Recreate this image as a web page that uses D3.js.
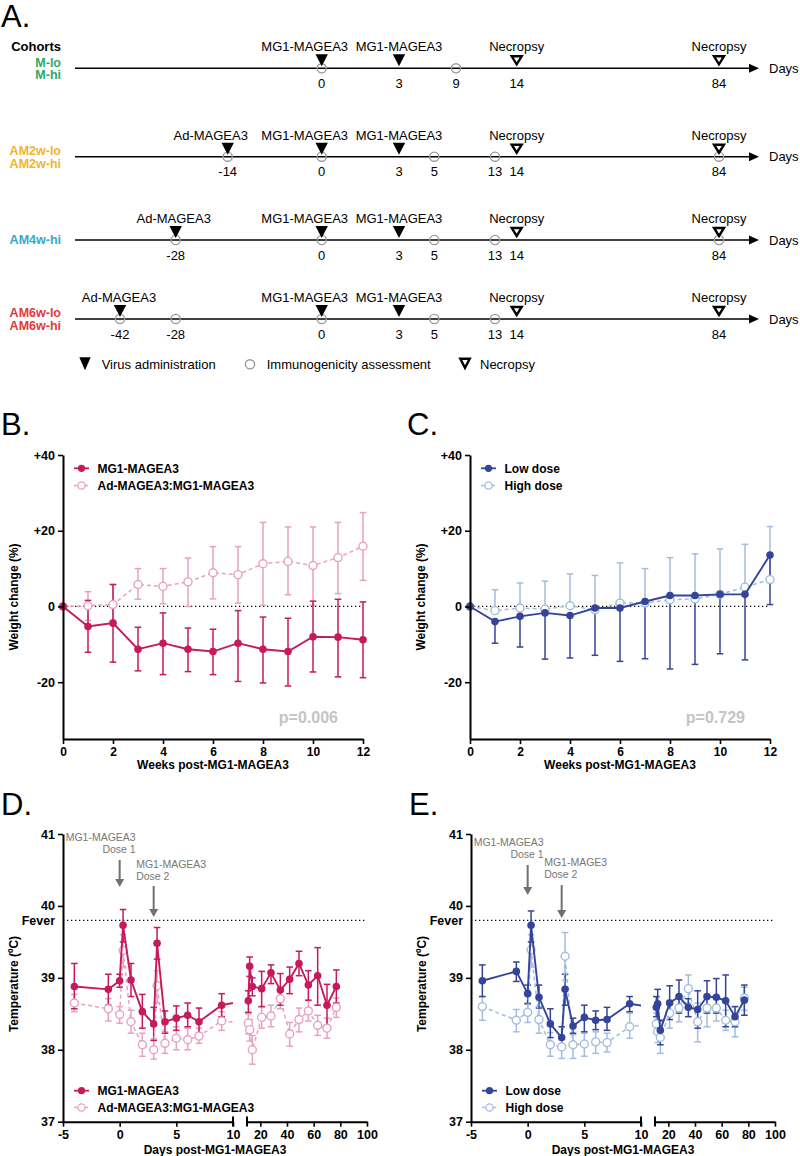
<!DOCTYPE html>
<html><head><meta charset="utf-8">
<script src="https://cdn.jsdelivr.net/npm/d3@7"></script>
<style>body{margin:0;background:#fff}svg{display:block}text{font-family:"Liberation Sans",Arial,sans-serif}</style>
</head><body><svg id="c" width="800" height="1156"></svg>
<script>
// ---------------- DATA ----------------
// Panel A (schematic timelines)
const timelineDays = [-42,-28,-14,0,3,5,9,13,14,84];
const cohortNames = [["M-lo","M-hi"],["AM2w-lo","AM2w-hi"],["AM4w-hi"],["AM6w-lo","AM6w-hi"]];
const virusDays = [[0,3],[-14,0,3],[-28,0,3],[-42,0,3]];
const virusLabels = [["MG1-MAGEA3","MG1-MAGEA3"],["Ad-MAGEA3","MG1-MAGEA3","MG1-MAGEA3"],["Ad-MAGEA3","MG1-MAGEA3","MG1-MAGEA3"],["Ad-MAGEA3","MG1-MAGEA3","MG1-MAGEA3"]];
const immunoDays = [[0,9],[-14,0,5,13,84],[-28,0,5,13,84],[-42,-28,0,5,13]];
const necropsyDays = [14,84];
const dayTicks = [[0,3,9,14,84],[-14,0,3,5,13,14,84],[-28,0,3,5,13,14,84],[-42,-28,0,3,5,13,14,84]];
const legendA = ["Virus administration","Immunogenicity assessment","Necropsy"];

// Panel B/C (weight change, %)
const weeks = [0,1,2,3,4,5,6,7,8,9,10,11,12];
const weekTicks = [0,2,4,6,8,10,12];
const weightTicks = [-20,0,20,40];
const bNames = ["MG1-MAGEA3","Ad-MAGEA3:MG1-MAGEA3"];
const bMG1   = [0,-5.3,-4.4,-11.3,-9.7,-11.3,-11.9,-9.7,-11.3,-11.9,-8.0,-8.1,-8.8];
const bMG1Hi = [0, 1.6, 5.8, -5.5,-1.7, -5.7, -6.0,-1.1, -2.8, -3.1, 1.4, 1.9, 1.2];
const bMG1Lo = [0,-12.1,-14.7,-17,-18,-17.2,-18,-19.8,-20.2,-21,-17.3,-18.6,-18.8];
const bAd    = [0,0.2,0.5,5.8,5.3,6.5,8.9,8.4,11.3,11.9,10.8,12.9,15.9];
const bAdHi  = [0,3.9,5.8,10,10,12.8,15.8,15.8,22.2,21,21,22.2,24.8];
const bAdLo  = [0,-3.7,-3.7,1.9,0.7,0,2,0.9,0.3,3.1,0.3,3.4,6.9];
const bP = "p=0.006";
const cNames = ["Low dose","High dose"];
const cLow    = [0,-4.0,-2.6,-1.7,-2.4,-0.4,-0.4,1.3,2.9,2.9,3.2,3.2,13.6];
const cLowLo  = [0,-9.7,-10.7,-13.9,-13.6,-12.9,-14.5,-13.8,-16.5,-15.3,-12.5,-14.1,0.5];
const cHigh   = [0,-1.1,-0.4,-0.7,0.2,-0.9,0.9,0.9,1.8,2.0,3.2,5.1,7.1];
const cHighHi = [0,4.4,6.2,6.7,8.6,8.2,11.5,10.0,12.9,13.9,15.2,16.4,21.1];
const cP = "p=0.729";

// Panel D/E (temperature, °C)
const tDays = [-4,-1,0,0.3,1,2,3,3.3,4,5,6,7,9,11,12,14,21,28,35,42,49,56,63,70,77];
const dayTicks1 = [-5,0,5,10];
const dayTicks2 = [20,40,60,80,100];
const tempTicks = [37,38,39,40,41];
const feverTemp = 39.8;
const dMG1   = [38.88,38.84,38.96,39.73,38.97,38.53,38.36,39.48,38.39,38.44,38.48,38.39,38.62,38.68,39.16,38.88,38.85,39.07,38.83,38.98,39.2,38.9,39.03,38.62,38.88];
const dMG1Hi = [39.2,39.05,39.05,39.95,39.2,38.77,38.59,39.7,38.54,38.61,38.65,38.58,38.78,38.82,39.29,39.0,39.09,39.18,39.06,39.15,39.37,39.1,39.42,38.91,39.11];
const dMG1Lo = [38.57,38.62,38.87,39.5,38.74,38.3,38.13,39.26,38.23,38.27,38.32,38.23,38.46,38.52,39.02,38.75,38.6,38.92,38.62,38.78,39.03,38.69,38.62,38.32,38.65];
const dAd    = [38.65,38.57,38.49,39.38,38.39,38.07,38.0,38.89,38.09,38.16,38.14,38.19,38.4,38.37,38.28,38.0,38.45,38.47,38.71,38.22,38.42,38.54,38.34,38.3,38.59];
const dAdHi  = [38.77,38.71,38.6,39.6,38.55,38.23,38.15,39.1,38.25,38.32,38.3,38.3,38.53,38.5,38.42,38.2,38.6,38.62,38.85,38.38,38.58,38.68,38.48,38.44,38.72];
const dAdLo  = [38.53,38.4,38.37,39.15,38.23,37.91,37.87,38.65,37.95,38.0,38.0,38.09,38.27,38.22,38.12,37.8,38.3,38.32,38.57,38.05,38.25,38.4,38.2,38.16,38.45];
const eLow   = [38.96,39.09,38.78,39.73,38.73,38.36,38.17,38.84,38.33,38.45,38.41,38.42,38.64,38.59,38.64,38.27,38.65,38.74,38.59,38.56,38.74,38.73,38.68,38.46,38.69];
const eLowHi = [39.18,39.22,38.9,39.93,38.9,38.57,38.32,39.05,38.44,38.62,38.54,38.59,38.74,38.74,38.84,38.41,38.89,38.97,38.71,38.82,38.96,38.99,39.04,38.6,38.9];
const eLowLo = [38.74,38.95,38.64,39.5,38.58,38.17,38.02,38.62,38.23,38.25,38.28,38.27,38.53,38.46,38.41,38.07,38.42,38.51,38.46,38.3,38.51,38.51,38.32,38.32,38.48];
const eHigh  = [38.6,38.41,38.52,39.39,38.42,38.07,38.04,39.3,38.07,38.08,38.11,38.1,38.32,38.36,38.25,38.17,38.51,38.58,38.85,38.39,38.58,38.58,38.41,38.39,38.72];
const eHighHi= [38.74,38.56,38.65,39.6,38.6,38.24,38.18,39.63,38.21,38.23,38.25,38.23,38.51,38.51,38.4,38.39,38.69,38.74,39.04,38.65,38.74,38.74,38.55,38.6,38.87];
const eHighLo= [38.41,38.25,38.38,39.15,38.23,37.91,37.88,38.97,37.88,37.91,37.95,37.97,38.16,38.23,38.1,37.95,38.3,38.39,38.65,38.11,38.32,38.4,38.27,38.18,38.55];

// ---------------- STYLE ----------------
const C = {pink:"#c51a5c", pinkL:"#e8a2c1", navy:"#34449a", blueL:"#a3bddd",
  cohort:["#2fa864","#f2b42e","#34a8cf","#e2383c"], gray:"#9a9a9a", note:"#777"};
const svg = d3.select("#c");

function T(g,x,y,s,o={}){
  const t=g.append("text").attr("x",x).attr("y",y).text(s)
   .attr("font-size",o.size||12).attr("font-weight",o.bold?"bold":"normal")
   .attr("fill",o.fill||"#000").attr("text-anchor",o.anchor||"start");
  if(o.rotate) t.attr("transform",`rotate(-90,${x},${y})`);
  return t;
}

// ---------------- PANEL A ----------------
(function(){
  const g=svg.append("g");
  T(g,1,27,"A.",{size:31});
  const tl=d3.scaleLinear().domain(timelineDays).range([120,175.7,227.7,321.7,399,434.3,456,495,516.7,719]);
  const rowY=[68.3,156.7,240,319];
  // horizontal nudges of the labels above the markers (layout only)
  const labelDx=[[-17,0],[-17,-17,0],[-2,-17,0],[-1,-17,0]];
  const filledTri=(x,y)=>`M${x-6.2},${y-14}L${x+6.2},${y-14}L${x},${y-2}Z`;
  const openTri=(x,y)=>`M${x-5},${y-12}L${x+5},${y-12}L${x},${y-4}Z`;
  T(g,61,51,"Cohorts",{size:13,bold:true,anchor:"end"});
  rowY.forEach((y,i)=>{
    g.append("line").attr("x1",75).attr("x2",751).attr("y1",y).attr("y2",y).attr("stroke","#000").attr("stroke-width",1.6);
    g.append("path").attr("d",`M749,${y-4.5}L759,${y}L749,${y+4.5}Z`).attr("fill","#000");
    T(g,769,y+4.5,"Days",{size:13});
    const names=cohortNames[i];
    const offs = names.length===2?[-1.6,10.9]:[4.3];
    names.forEach((n,j)=>T(g,61,y+offs[j],n,{size:12.5,bold:true,anchor:"end",fill:C.cohort[i]}));
    immunoDays[i].forEach(d=>g.append("circle").attr("cx",tl(d)).attr("cy",y).attr("r",4.6)
      .attr("fill","none").attr("stroke",C.gray).attr("stroke-width",1.4));
    virusDays[i].forEach((d,j)=>{
      g.append("path").attr("d",filledTri(tl(d),y)).attr("fill","#000");
      T(g,tl(d)+labelDx[i][j],y-17,virusLabels[i][j],{size:13,anchor:"middle"});
    });
    necropsyDays.forEach(d=>{
      g.append("path").attr("d",openTri(tl(d),y)).attr("fill","#fff").attr("stroke","#000").attr("stroke-width",2.4);
      T(g,tl(d),y-17,"Necropsy",{size:13,anchor:"middle"});
    });
    dayTicks[i].forEach(d=>T(g,tl(d),y+19.5,String(d),{size:13,anchor:"middle"}));
  });
  const ly=364.3;
  g.append("path").attr("d",`M79.3,${ly-7}L90.7,${ly-7}L85,${ly+6}Z`).attr("fill","#000");
  T(g,101.7,ly+4.5,legendA[0],{size:13});
  g.append("circle").attr("cx",250).attr("cy",ly).attr("r",4.6).attr("fill","none").attr("stroke",C.gray).attr("stroke-width",1.4);
  T(g,266.7,ly+4.5,legendA[1],{size:13});
  g.append("path").attr("d",`M460.3,${ly-5.5}L469.7,${ly-5.5}L465,${ly+3.5}Z`).attr("fill","#fff").attr("stroke","#000").attr("stroke-width",2.4);
  T(g,480,ly+4.5,legendA[2],{size:13});
})();

// ---------------- helpers ----------------
function styleAxis(sel,size){
  sel.attr("font-family",null).attr("font-size",null);
  sel.selectAll("path.domain").attr("stroke","#000").attr("stroke-width",2);
  sel.selectAll(".tick line").attr("stroke","#000").attr("stroke-width",1.6);
  sel.selectAll(".tick text").attr("font-size",size||12).attr("font-weight","bold").attr("fill","#000");
}
function errBars(g,xf,y,xs,mean,hi,lo,color){
  xs.forEach((d,i)=>{
    const x=xf(d);
    const top = hi? hi[i]:mean[i], bot = lo? lo[i]:mean[i];
    if(top===bot) return;
    g.append("line").attr("x1",x).attr("x2",x).attr("y1",y(top)).attr("y2",y(bot)).attr("stroke",color).attr("stroke-width",1.5);
    if(hi && hi[i]!==mean[i]) g.append("line").attr("x1",x-3.3).attr("x2",x+3.3).attr("y1",y(top)).attr("y2",y(top)).attr("stroke",color).attr("stroke-width",1.5);
    if(lo && lo[i]!==mean[i]) g.append("line").attr("x1",x-3.3).attr("x2",x+3.3).attr("y1",y(bot)).attr("y2",y(bot)).attr("stroke",color).attr("stroke-width",1.5);
  });
}
function markers(g,xf,y,xs,mean,color,open){
  xs.forEach((d,i)=>{
    const c=g.append("circle").attr("cx",xf(d)).attr("cy",y(mean[i]));
    if(open) c.attr("r",4).attr("fill","#fff").attr("stroke",color).attr("stroke-width",1.4);
    else c.attr("r",3.8).attr("fill",color);
  });
}
function legendItem(g,x,y,name,color,open){
  const l=g.append("line").attr("x1",x).attr("x2",x+15).attr("y1",y).attr("y2",y).attr("stroke",color).attr("stroke-width",open?1.5:1.8);
  if(open) l.attr("stroke-dasharray","3,2.5");
  const c=g.append("circle").attr("cx",x+7.5).attr("cy",y);
  if(open) c.attr("r",3.6).attr("fill","#fff").attr("stroke",color).attr("stroke-width",1.3); else c.attr("r",3.6).attr("fill",color);
  T(g,x+23.5,y+4.2,name,{size:12,bold:true});
}

// ---------------- PANELS B / C ----------------
function weightPanel(x0,letter,series,names,pText){
  const g=svg.append("g");
  T(g,x0-62+(letter==="C."?-1:0),435,letter,{size:31});
  const x=d3.scaleLinear().domain([0,12]).range([x0,x0+300]);
  const y=d3.scaleLinear().domain([-35,40]).range([739,455]);
  g.append("line").attr("x1",x(0)).attr("x2",x(12)).attr("y1",y(0)).attr("y2",y(0))
    .attr("stroke","#000").attr("stroke-width",1.3).attr("stroke-dasharray","1.3,2.7");
  series.forEach(s=>{
    errBars(g,x,y,weeks,s.mean,s.hi,s.lo,s.color);
  });
  series.forEach(s=>{
    const line=d3.line().x((d,i)=>x(weeks[i])).y(d=>y(d));
    const p=g.append("path").attr("d",line(s.mean)).attr("fill","none").attr("stroke",s.color).attr("stroke-width",s.open?1.5:1.9);
    if(s.open) p.attr("stroke-dasharray","4,3");
    markers(g,x,y,weeks,s.mean,s.color,s.open);
  });
  const ax=g.append("g").attr("transform",`translate(${x0},0)`)
    .call(d3.axisLeft(y).tickValues(weightTicks).tickFormat(d=>d>0?"+"+d:String(d)).tickSize(5).tickSizeOuter(0));
  styleAxis(ax,12.5);
  const bx=g.append("g").attr("transform",`translate(0,739)`)
    .call(d3.axisBottom(x).tickValues(weekTicks).tickFormat(String).tickSize(5).tickSizeOuter(0));
  styleAxis(bx,12);
  T(g,x0+150,769,"Weeks post-MG1-MAGEA3",{size:12,bold:true,anchor:"middle"});
  T(g,x0-45,597,"Weight change (%)",{size:12,bold:true,anchor:"middle",rotate:true});
  T(g,x0+275,723,pText,{size:16,bold:true,anchor:"end",fill:"#c4c4c4"});
  legendItem(g,x0+11,468.3,names[0],series[1].color,false);
  legendItem(g,x0+11,485.5,names[1],series[0].color,true);
}
weightPanel(63,"B.",[
  {mean:bAd,hi:bAdHi,lo:bAdLo,color:C.pinkL,open:true},
  {mean:bMG1,hi:bMG1Hi,lo:bMG1Lo,color:C.pink,open:false}],bNames,bP);
weightPanel(470,"C.",[
  {mean:cHigh,hi:cHighHi,lo:null,color:C.blueL,open:true},
  {mean:cLow,hi:null,lo:cLowLo,color:C.navy,open:false}],cNames,cP);

// ---------------- PANELS D / E ----------------
let clipId=0;
function tempPanel(x0,letter,series,names,notes){
  const g=svg.append("g");
  T(g,x0-62,815,letter,{size:31});
  const x1=d3.scaleLinear().domain([-5,10]).range([x0,x0+170]);
  const x2=d3.scaleLinear().domain([10,100]).range([x0+184,x0+304]);
  const xf=d=>d<=10?x1(d):x2(d);
  const y=d3.scaleLinear().domain([37,41]).range([1121.7,834]);
  const c1="clip"+(clipId++), c2="clip"+(clipId++);
  const defs=g.append("defs");
  defs.append("clipPath").attr("id",c1).append("rect").attr("x",x0-10).attr("y",820).attr("width",180).attr("height",320);
  defs.append("clipPath").attr("id",c2).append("rect").attr("x",x0+184).attr("y",820).attr("width",140).attr("height",320);
  g.append("line").attr("x1",x0).attr("x2",x2(100)).attr("y1",y(feverTemp)).attr("y2",y(feverTemp))
    .attr("stroke","#000").attr("stroke-width",1.3).attr("stroke-dasharray","1.3,2.7");
  series.forEach(s=>errBars(g,xf,y,tDays,s.mean,s.hi,s.lo,s.color));
  series.forEach(s=>{
    [[x1,c1],[x2,c2]].forEach(([sc,cid])=>{
      const line=d3.line().x((d,i)=>sc(tDays[i])).y(d=>y(d));
      const p=g.append("path").attr("d",line(s.mean)).attr("clip-path",`url(#${cid})`)
        .attr("fill","none").attr("stroke",s.color).attr("stroke-width",s.open?1.5:1.9);
      if(s.open) p.attr("stroke-dasharray","4,3");
    });
    markers(g,xf,y,tDays,s.mean,s.color,s.open);
  });
  const ax=g.append("g").attr("transform",`translate(${x0},0)`)
    .call(d3.axisLeft(y).tickValues(tempTicks).tickFormat(String).tickSize(5).tickSizeOuter(0));
  styleAxis(ax,12.5);
  T(g,x0-8,y(feverTemp)+4.3,"Fever",{size:12.5,bold:true,anchor:"end"});
  const b1=g.append("g").attr("transform",`translate(0,1121.7)`)
    .call(d3.axisBottom(x1).tickValues(dayTicks1).tickFormat(String).tickSize(5).tickSizeOuter(0));
  styleAxis(b1,12.5);
  const b2=g.append("g").attr("transform",`translate(0,1121.7)`)
    .call(d3.axisBottom(x2).tickValues(dayTicks2).tickFormat(String).tickSize(5).tickSizeOuter(0));
  styleAxis(b2,12.5);
  [x0+170,x0+184].forEach(bx=>g.append("line").attr("x1",bx).attr("x2",bx).attr("y1",1116.5).attr("y2",1126.5).attr("stroke","#000").attr("stroke-width",2));
  T(g,x0+152,1154,"Days post-MG1-MAGEA3",{size:12,bold:true,anchor:"middle"});
  T(g,x0-45,984,"Temperature (ºC)",{size:12,bold:true,anchor:"middle",rotate:true});
  const arrow=(ax,yA,yB)=>{
    g.append("line").attr("x1",ax).attr("x2",ax).attr("y1",yA).attr("y2",yB-7).attr("stroke","#707070").attr("stroke-width",2);
    g.append("path").attr("d",`M${ax-4.5},${yB-8}L${ax+4.5},${yB-8}L${ax},${yB}Z`).attr("fill","#707070");
  };
  const n=notes;
  T(g,x1(0)+16,n.y1,n.t1,{size:10.5,anchor:"end",fill:C.note});
  T(g,x1(0)+16,n.y1+11.5,"Dose 1",{size:10.5,anchor:"end",fill:C.note});
  arrow(x1(0),n.a1[0],n.a1[1]);
  T(g,x1(0)+16.5,n.y2,n.t2,{size:10.5,anchor:"start",fill:C.note});
  T(g,x1(0)+16.5,n.y2+11.5,"Dose 2",{size:10.5,anchor:"start",fill:C.note});
  arrow(x1(3),n.a2[0],n.a2[1]);
  legendItem(g,x0+11,1090.7,names[0],series[1].color,false);
  legendItem(g,x0+11,1107.5,names[1],series[0].color,true);
}
tempPanel(63,"D.",[
  {mean:dAd,hi:dAdHi,lo:dAdLo,color:C.pinkL,open:true},
  {mean:dMG1,hi:dMG1Hi,lo:dMG1Lo,color:C.pink,open:false}],bNames,
  {t1:"MG1-MAGEA3",y1:841,a1:[860,887],t2:"MG1-MAGEA3",y2:868,a2:[886,917]});
tempPanel(471,"E.",[
  {mean:eHigh,hi:eHighHi,lo:eHighLo,color:C.blueL,open:true},
  {mean:eLow,hi:eLowHi,lo:eLowLo,color:C.navy,open:false}],cNames,
  {t1:"MG1-MAGEA3",y1:846,a1:[865,895],t2:"MG1-MAGE3",y2:866,a2:[885,918]});
</script></body></html>
